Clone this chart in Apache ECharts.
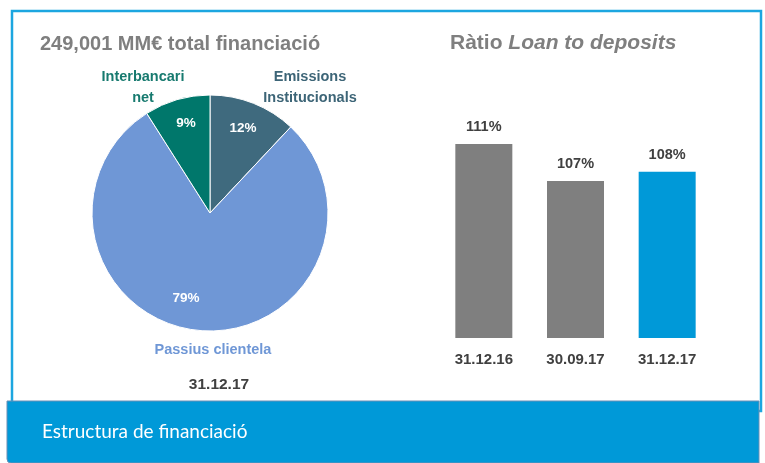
<!DOCTYPE html>
<html>
<head>
<meta charset="utf-8">
<title>Estructura de financiació</title>
<style>
  body { margin: 0; background: #fff; }
  #chart { width: 765px; height: 463px; }
</style>
</head>
<body>
<div id="chart"></div>
<script src="https://cdn.jsdelivr.net/npm/echarts@6/dist/echarts.min.js"></script>
<script>
// pie: funding structure at 31.12.17
var pieNames = ['Emissions\nInstitucionals', 'Passius clientela', 'Interbancari\nnet'];
var pieValues = [12, 79, 9];
var pieColors = ['#3f6a7e', '#6f97d6', '#00776b'];
var pieLabelColors = ['#3d6577', '#6f97d6', '#177a6f'];

// bars: loan to deposits ratio
var barDates = ['31.12.16', '30.09.17', '31.12.17'];
var barValues = [111, 107, 108];
var barColors = ['#7f7f7f', '#7f7f7f', '#0099d8'];

// where the labels sit (layout only)
var pctPos = [[243, 128], [186, 298], [186, 123]];
var namePos = [[310, 87], [213, 350], [143, 87]];

var chart = echarts.init(document.getElementById('chart'));

var font = 'Liberation Sans';

chart.setOption({
  animation: false,
  title: [
    {
      text: '249,001 MM€ total financiació',
      left: 35, top: 29,
      textStyle: { fontFamily: font, fontSize: 20, fontWeight: 'bold', color: '#7f7f7f' }
    },
    {
      text: '{a|Ràtio }{b|Loan to deposits}',
      left: 445, top: 28,
      textStyle: {
        rich: {
          a: { fontFamily: font, fontSize: 21, color: '#7f7f7f' },
          b: { fontFamily: font, fontSize: 21, color: '#7f7f7f', fontStyle: 'italic' }
        }
      }
    },
    {
      text: '31.12.17',
      left: 214, top: 372, textAlign: 'center',
      textStyle: { fontFamily: font, fontSize: 15.5, fontWeight: 'bold', color: '#404040' }
    },
    {
      text: 'Estructura de financiació',
      left: 37, top: 417,
      textStyle: { fontFamily: 'Lato', fontSize: 19, fontWeight: 'normal', color: '#ffffff' }
    }
  ],
  graphic: [
    {
      type: 'rect', z: -10,
      shape: { x: 12, y: 11, width: 749, height: 400 },
      style: { fill: 'none', stroke: '#1ca6e0', lineWidth: 2.5 }
    },
    {
      type: 'rect', z: -5,
      shape: { x: 7, y: 401, width: 752, height: 62, r: [0, 0, 0, 4] },
      style: { fill: '#0099d8', stroke: '#6a8fb5', lineWidth: 1 }
    }
  ],
  grid: { left: 438, right: 52, top: 107, bottom: 125 },
  xAxis: {
    type: 'category',
    data: barDates,
    axisLine: { show: false },
    axisTick: { show: false },
    axisLabel: { margin: 14, fontFamily: font, fontSize: 15, fontWeight: 'bold', color: '#404040' }
  },
  yAxis: {
    type: 'value', min: 90, max: 115,
    show: false,
    splitLine: { show: false }
  },
  series: [
    {
      type: 'bar',
      barWidth: 57,
      data: barValues.map(function (v, i) {
        return { value: v, itemStyle: { color: barColors[i] } };
      }),
      label: {
        show: true, position: 'top', distance: 9,
        formatter: '{c}%',
        fontFamily: font, fontSize: 14.5, fontWeight: 'bold', color: '#404040'
      }
    },
    {
      type: 'pie',
      center: [210, 213],
      radius: [0, 118],
      startAngle: 90,
      clockwise: true,
      data: pieValues.map(function (v, i) {
        return { name: pieNames[i], value: v, itemStyle: { color: pieColors[i] } };
      }),
      itemStyle: { borderColor: '#ffffff', borderWidth: 1 },
      label: {
        show: true, position: 'inside',
        formatter: '{c}%',
        fontFamily: font, fontSize: 13.5, fontWeight: 'bold', color: '#ffffff'
      },
      labelLayout: function (p) {
        var q = pctPos[p.dataIndex];
        return { x: q[0], y: q[1], align: 'center', verticalAlign: 'middle' };
      },
      emphasis: { disabled: true }
    },
    {
      type: 'pie',
      center: [210, 213],
      radius: [0, 118],
      startAngle: 90,
      silent: true,
      z: 1,
      data: pieValues.map(function (v, i) {
        return {
          name: pieNames[i], value: v,
          itemStyle: { color: 'rgba(0,0,0,0)' },
          label: { color: pieLabelColors[i] }
        };
      }),
      label: {
        show: true, position: 'outside',
        formatter: '{b}',
        fontFamily: font, fontSize: 14.5, fontWeight: 'bold', lineHeight: 21
      },
      labelLine: { show: false },
      labelLayout: function (p) {
        var q = namePos[p.dataIndex];
        return { x: q[0], y: q[1], align: 'center', verticalAlign: 'middle' };
      }
    }
  ]
});
</script>
</body>
</html>
